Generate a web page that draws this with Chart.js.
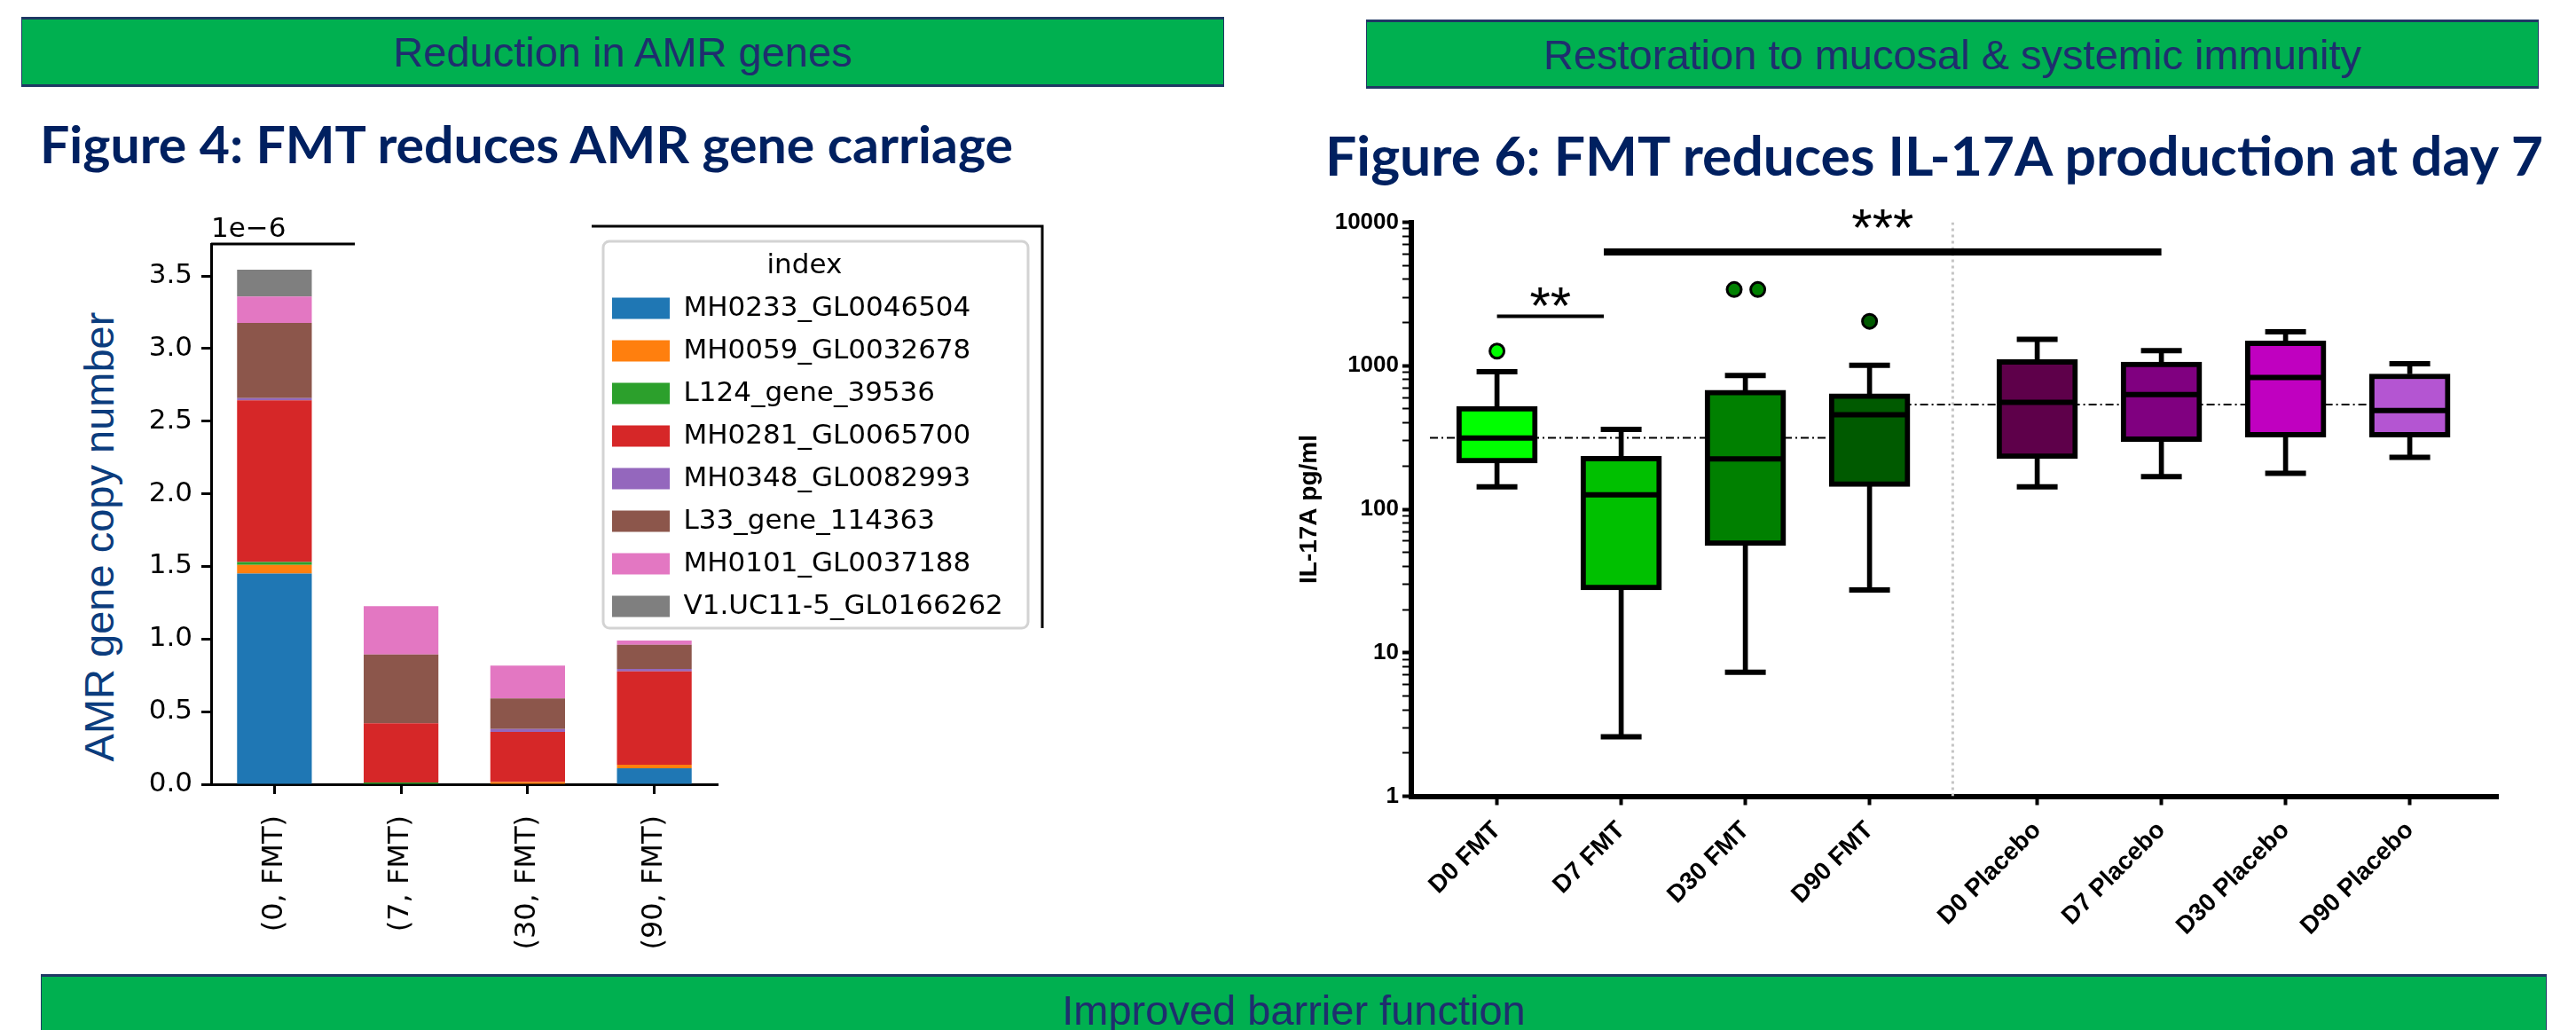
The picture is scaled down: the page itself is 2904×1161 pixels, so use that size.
<!DOCTYPE html>
<html>
<head>
<meta charset="utf-8">
<script src="https://cdn.jsdelivr.net/npm/chart.js@4.4.1/dist/chart.umd.min.js"></script>
<style>
  html, body { margin: 0; padding: 0; background: #fff; }
  body { position: relative; width: 2904px; height: 1161px; overflow: hidden; font-family: "Liberation Sans", Arial, sans-serif; }
  .banner { position: absolute; box-sizing: border-box; background: #00b050; border: 1px solid #1f3864; border-top-width: 3px; border-bottom-width: 3px;
            color: #1f2e6e; font-size: 47px; display: flex; align-items: center; justify-content: center; white-space: nowrap; }
  .title { position: absolute; font-family: Lato, "Open Sans", sans-serif; font-weight: 700; font-size: 57px; line-height: 57px;
           color: #002060; white-space: nowrap; transform-origin: 0 0; }
  .ytitle { position: absolute; font-size: 47px; color: #0b3c7d; white-space: nowrap; transform: translate(-50%, -50%) rotate(-90deg); }
  canvas { position: absolute; }
</style>
</head>
<body>
<div class="banner" style="left:24px; top:19px; width:1356px; height:79px;">Reduction in AMR genes</div>
<div class="banner" style="left:1540px; top:22px; width:1322px; height:78px;">Restoration to mucosal &amp; systemic immunity</div>
<div class="banner" style="left:46px; top:1098px; width:2825px; height:80px;">Improved barrier function</div>

<div class="title" id="t4" style="left:45px; top:134px;">Figure 4: FMT reduces AMR gene carriage</div>
<div class="title" id="t6" style="left:1494px; top:144px; font-size:61px; line-height:61px;">Figure 6: FMT reduces IL-17A production at day 7</div>

<div class="ytitle" style="left:111px; top:605px;">AMR gene copy number</div>

<canvas id="amrChart" width="1220" height="870" style="left:0px; top:230px;"></canvas>
<canvas id="ilChart" width="1500" height="900" style="left:1380px; top:200px;"></canvas>

<script>
// ---------- Figure 4: AMR gene copy number (values in units of 1e-6) ----------
const amrTimepoints = ['(0, FMT)', '(7, FMT)', '(30, FMT)', '(90, FMT)'];
const amrGenes = ['MH0233_GL0046504', 'MH0059_GL0032678', 'L124_gene_39536', 'MH0281_GL0065700',
                  'MH0348_GL0082993', 'L33_gene_114363', 'MH0101_GL0037188', 'V1.UC11-5_GL0166262'];
const amrColors = ['#1f77b4', '#ff7f0e', '#2ca02c', '#d62728', '#9467bd', '#8c564b', '#e377c2', '#7f7f7f'];
const mh0233 = [1.45, 0, 0, 0.11];
const mh0059 = [0.06, 0, 0.015, 0.024];
const l124   = [0.02, 0.012, 0, 0];
const mh0281 = [1.114, 0.408, 0.345, 0.643];
const mh0348 = [0.014, 0, 0.021, 0.017];
const l33    = [0.518, 0.473, 0.21, 0.166];
const mh0101 = [0.182, 0.333, 0.226, 0.03];
const v1uc11 = [0.185, 0, 0, 0];
const amrSeries = [mh0233, mh0059, l124, mh0281, mh0348, l33, mh0101, v1uc11];
const amrTicks = [0, 0.5, 1.0, 1.5, 2.0, 2.5, 3.0, 3.5];

// ---------- Figure 6: IL-17A pg/ml box plots ----------
const ilGroups = ['D0 FMT', 'D7 FMT', 'D30 FMT', 'D90 FMT', 'D0 Placebo', 'D7 Placebo', 'D30 Placebo', 'D90 Placebo'];
const ilPositions = [0, 1, 2, 3, 4.35, 5.35, 6.35, 7.35];
const ilMin    = [143, 2.6, 7.3, 27.4, 143, 169, 178, 230];
const ilQ1     = [210, 27.4, 55.9, 144, 225, 296, 318, 318];
const ilMedian = [313, 126, 224, 456, 555, 629, 827, 487];
const ilQ3     = [520, 234, 676, 637, 1104, 1061, 1490, 877];
const ilMax    = [910, 360, 855, 1007, 1530, 1274, 1721, 1033];
const ilFill   = ['#00ff00', '#00c000', '#008000', '#005a00', '#5e004a', '#800080', '#c000c0', '#b455d2'];
const ilOutlierGroup  = [0, 2, 2, 3];
const ilOutlierJitter = [0, -0.09, 0.1, 0];
const ilOutlierValue  = [1265, 3397, 3397, 2041];
const fmtMean = 314;
const placeboMean = 537;
const ilDecades = [1, 10, 100, 1000, 10000];
const dividerX = 3.67;
const sigBars = [
  { from: 0, to: 0.86, y: 2210, label: '**', labelY: 3185, width: 4 },
  { from: 0.86, to: 5.35, y: 6215, label: '***', labelY: 11200, width: 8 }
];

Chart.defaults.color = '#000';

// ---- left chart ----
const amrDecor = {
  id: 'amrDecor',
  afterLayout(chart) {
    // legend sits over the plot, like the pasted matplotlib legend
    const lg = chart.legend;
    const w = lg.width;
    lg.left = 673; lg.top = 42; lg.right = lg.left + w;
    lg.bottom = lg.top + 700;
  },
  beforeDraw(chart) {
    const lg = chart.legend, ctx = chart.ctx;
    ctx.save();
    ctx.beginPath();
    ctx.roundRect(lg.left + 7, lg.top, 479, 436, 7);
    ctx.fillStyle = '#fff'; ctx.fill();
    ctx.strokeStyle = '#d3d3d3'; ctx.lineWidth = 3; ctx.stroke();
    ctx.restore();
  },
  afterDraw(chart) {
    const { ctx, chartArea: a } = chart;
    const lg = chart.legend;
    ctx.save();
    ctx.font = '31px "DejaVu Sans"';
    ctx.fillStyle = '#000';
    ctx.textAlign = 'left';
    ctx.textBaseline = 'alphabetic';
    ctx.fillText('1e\u22126', a.left, a.top - 8);
    ctx.strokeStyle = '#000';
    ctx.lineWidth = 3;
    ctx.beginPath();
    ctx.moveTo(a.left, a.top); ctx.lineTo(a.left + 162, a.top);
    ctx.moveTo(lg.left - 6, lg.top - 17); ctx.lineTo(lg.left + 502, lg.top - 17); ctx.lineTo(lg.left + 502, lg.top + 436);
    ctx.stroke();
    ctx.restore();
  }
};

new Chart(document.getElementById('amrChart'), {
  type: 'bar',
  data: {
    labels: amrTimepoints,
    datasets: amrGenes.map((g, i) => ({
      label: g,
      data: amrSeries[i],
      backgroundColor: amrColors[i],
      borderWidth: 0,
      categoryPercentage: 1,
      barPercentage: 0.59
    }))
  },
  options: {
    responsive: false,
    animation: false,
    events: [],
    devicePixelRatio: 1,
    layout: { padding: { top: 45, right: 411, left: 0, bottom: 0 } },
    plugins: {
      tooltip: { enabled: false },
      legend: {
        position: 'chartArea',
        align: 'start',
        title: { display: true, text: 'index', color: '#000', font: { family: 'DejaVu Sans', size: 31, lineHeight: 1 }, padding: { top: 12, bottom: 0 } },
        labels: { boxWidth: 65, boxHeight: 24, padding: 17, color: '#000', font: { family: 'DejaVu Sans', size: 31 } }
      }
    },
    scales: {
      x: {
        stacked: true,
        afterFit: s => { s.height = 216; },
        ticks: { autoSkip: false, minRotation: 90, maxRotation: 90, padding: 24, color: '#000', font: { family: 'DejaVu Sans', size: 32 } },
        grid: { drawOnChartArea: false, offset: false, tickLength: 11, tickWidth: 3, tickColor: '#000' },
        border: { color: '#000', width: 3 }
      },
      y: {
        stacked: true,
        min: 0,
        max: 3.72,
        afterFit: s => { s.width = 238; },
        afterBuildTicks: s => { s.ticks = amrTicks.map(v => ({ value: v })); },
        ticks: { padding: 10, color: '#000', font: { family: 'DejaVu Sans', size: 31 }, callback: v => v.toFixed(1) },
        grid: { drawOnChartArea: false, tickLength: 11, tickWidth: 3, tickColor: '#000' },
        border: { color: '#000', width: 3 }
      }
    }
  },
  plugins: [amrDecor]
});

// ---- right chart ----
const boxData = ilPositions.map((x, i) => ({ x, y: [ilQ1[i], ilQ3[i]] }));
const upperWhisker = ilPositions.map((x, i) => ({ x, y: [ilQ3[i], ilMax[i]] }));
const lowerWhisker = ilPositions.map((x, i) => ({ x, y: [ilMin[i], ilQ1[i]] }));
const medians = ilPositions.map((x, i) => ({ x, y: ilMedian[i] }));
const caps = ilPositions.flatMap((x, i) => [{ x, y: ilMax[i] }, { x, y: ilMin[i] }]);
const outliers = ilOutlierValue.map((v, k) => ({ x: ilPositions[ilOutlierGroup[k]] + ilOutlierJitter[k], y: v }));
const outlierColors = ilOutlierGroup.map(g => ilFill[g]);

const sigLabels = {
  id: 'sigLabels',
  afterDraw(chart) {
    const { ctx, scales: { x, y } } = chart;
    ctx.save();
    ctx.font = '60px "Liberation Sans"';
    ctx.fillStyle = '#000';
    ctx.textAlign = 'center';
    ctx.textBaseline = 'alphabetic';
    sigBars.forEach(b => {
      ctx.fillText(b.label, x.getPixelForValue((b.from + b.to) / 2), y.getPixelForValue(b.labelY) + 34);
    });
    ctx.restore();
  }
};

new Chart(document.getElementById('ilChart'), {
  type: 'bar',
  data: {
    datasets: [
      { type: 'scatter', label: 'outliers', data: outliers, pointRadius: 8, pointBackgroundColor: outlierColors,
        pointBorderColor: '#000', pointBorderWidth: 3, order: 1 },
      { type: 'scatter', label: 'median', data: medians, pointStyle: 'line', pointRadius: 42,
        pointBorderColor: '#000', pointBorderWidth: 6, order: 2 },
      { type: 'scatter', label: 'whisker caps', data: caps, pointStyle: 'line', pointRadius: 23,
        pointBorderColor: '#000', pointBorderWidth: 6, order: 2 },
      ...sigBars.map(b => ({ type: 'line', label: b.label, data: [{ x: b.from, y: b.y }, { x: b.to, y: b.y }],
        borderColor: '#000', borderWidth: b.width, pointRadius: 0, order: 2 })),
      { type: 'bar', label: 'IQR', data: boxData, backgroundColor: ilFill, borderColor: '#000', borderWidth: 6,
        borderSkipped: false, barThickness: 91, grouped: false, order: 5 },
      { type: 'bar', label: 'upper whisker', data: upperWhisker, backgroundColor: '#000', borderWidth: 0,
        barThickness: 5, grouped: false, order: 6 },
      { type: 'bar', label: 'lower whisker', data: lowerWhisker, backgroundColor: '#000', borderWidth: 0,
        barThickness: 5, grouped: false, order: 6 },
      { type: 'line', label: 'FMT median', data: [{ x: -0.54, y: fmtMean }, { x: 3, y: fmtMean }],
        borderColor: '#000', borderWidth: 2, borderDash: [9, 4, 2, 4], pointRadius: 0, order: 8 },
      { type: 'line', label: 'Placebo median', data: [{ x: 3, y: placeboMean }, { x: 7.35, y: placeboMean }],
        borderColor: '#000', borderWidth: 2, borderDash: [9, 4, 2, 4], pointRadius: 0, order: 8 },
      { type: 'line', label: 'divider', data: [{ x: dividerX, y: 1 }, { x: dividerX, y: 10000 }],
        borderColor: '#c4c4c4', borderWidth: 3, borderDash: [3, 4], pointRadius: 0, order: 9 }
    ]
  },
  options: {
    responsive: false,
    animation: false,
    events: [],
    devicePixelRatio: 1,
    layout: { padding: { top: 50.5, right: 64, left: 0, bottom: 0 } },
    plugins: { legend: { display: false }, tooltip: { enabled: false } },
    scales: {
      x: {
        type: 'linear',
        min: -0.69,
        max: 8.06,
        offset: false,
        afterFit: s => { s.height = 202.5; },
        afterBuildTicks: s => { s.ticks = ilPositions.map(v => ({ value: v })); },
        ticks: { autoSkip: false, minRotation: 45, maxRotation: 45, padding: 12, color: '#000',
                 font: { family: 'Liberation Sans', size: 28, weight: 'bold' },
                 callback: (v, i) => ilGroups[i] },
        grid: { drawOnChartArea: false, offset: false, tickLength: 10, tickWidth: 4, tickColor: '#000' },
        border: { color: '#000', width: 6 }
      },
      y: {
        type: 'logarithmic',
        min: 1,
        max: 10000,
        afterFit: s => { s.width = 211; },
        afterBuildTicks: s => {
          const t = [];
          ilDecades.forEach((d, k) => {
            t.push({ value: d, major: true });
            if (k < ilDecades.length - 1) for (let m = 2; m < 10; m++) t.push({ value: m * d });
          });
          s.ticks = t;
        },
        ticks: { autoSkip: false, padding: 4, color: '#000', font: { family: 'Liberation Sans', size: 26, weight: 'bold' },
                 callback: v => ilDecades.includes(v) ? String(v) : '' },
        grid: { drawOnChartArea: false, tickLength: 10, tickColor: '#000',
                tickWidth: c => (c.tick && c.tick.major) ? 4 : 2 },
        border: { color: '#000', width: 6 },
        title: { display: true, text: 'IL-17A pg/ml', color: '#000', font: { family: 'Liberation Sans', size: 28, weight: 'bold' },
                 padding: { top: 79, bottom: 0 } }
      }
    }
  },
  plugins: [sigLabels]
});

// squeeze the titles to the width they have on the poster
function fitWidth(id, target) {
  const el = document.getElementById(id);
  const w = el.getBoundingClientRect().width;
  el.style.transform = 'scaleX(' + (target / w) + ')';
}
fitWidth('t4', 1097);
fitWidth('t6', 1373);
</script>
</body>
</html>
